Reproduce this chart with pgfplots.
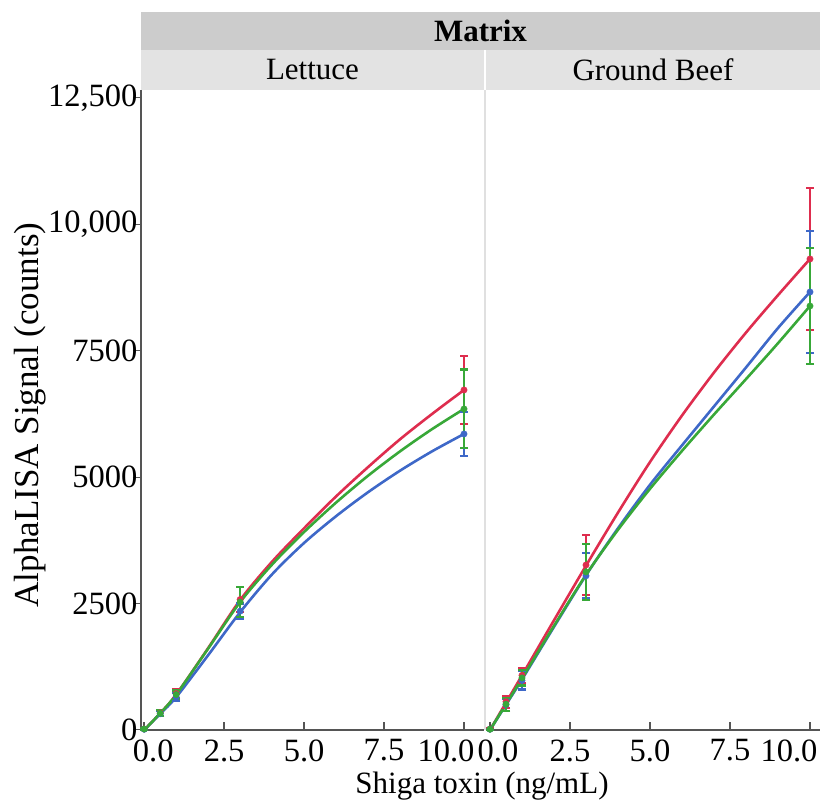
\documentclass[border=0pt]{standalone}
\usepackage{pgfplots}
\usepackage{pgfplotstable}
\pgfplotsset{compat=1.18}
\usepackage{fontspec}
\setmainfont{Liberation Serif}
\definecolor{cred}{RGB}{222,45,78}
\definecolor{cgreen}{RGB}{56,168,56}
\definecolor{cblue}{RGB}{62,104,200}
\definecolor{stripdark}{RGB}{204,204,204}
\definecolor{striplight}{RGB}{227,227,227}
\definecolor{axgray}{RGB}{85,85,85}
\newcommand\bigf{\fontsize{31}{36}\selectfont}
\newcommand\tickf{\fontsize{32.5}{36}\selectfont}
\newcommand\labf{\fontsize{35}{40}\selectfont}
\pgfplotstableread{
x r g b
0 0 0 0
0.5 330 330 320
1 700 700 650
2 1620 1610 1480
3 2570 2530 2330
4 3330 3273 3080
5 3990 3916 3700
6 4620 4498 4229
7 5200 5029 4703
8 5750 5511 5129
9 6250 5950 5511
10 6725 6350 5855
}\curveL
\pgfplotstableread{
x r g b
0 0 0 0
0.5 540 510 500
1 1080 1020 1000
2 2170 2060 2040
3 3250 3070 3060
4 4300 3960 3990
5 5300 4770 4850
6 6220 5520 5630
7 7070 6240 6400
8 7860 6940 7170
9 8600 7650 7950
10 9316 8386 8663
}\curveR
\pgfplotstableread{
x y e
0 20 10
0.5 340 60
1 720 80
3 2580 250
10 6725 670
}\ptsLr
\pgfplotstableread{
x y e
0 20 10
0.5 330 60
1 700 80
3 2530 300
10 6350 780
}\ptsLg
\pgfplotstableread{
x y e
0 15 10
0.5 320 50
1 650 80
3 2350 150
10 5855 430
}\ptsLb
\pgfplotstableread{
x y e
0 20 10
0.5 560 120
1 1080 150
3 3263 600
10 9316 1400
}\ptsRr
\pgfplotstableread{
x y e
0 15 10
0.5 510 130
1 1030 150
3 3125 550
10 8386 1150
}\ptsRg
\pgfplotstableread{
x y e
0 15 10
0.5 500 120
1 980 180
3 3050 450
10 8663 1200
}\ptsRb
\pgfplotsset{
  panel/.style={
    scale only axis, height=640pt, ymin=0, ymax=12658,
    axis x line*=bottom,
    axis line style={-, draw=axgray, line width=1.5pt},
    tick align=inside, major tick length=8pt,
    tick style={draw=axgray, line width=1.5pt},
    xtick={0,2.5,5,7.5,10},
    tick label style={font=\tickf},
    xticklabel style={yshift=-6pt},
    scaled y ticks=false,
    /pgf/number format/assume math mode=true,
    clip=false,
  },
  crv/.style={line width=2.6pt, smooth},
  pts/.style={only marks, mark=*, mark size=3.2pt,
    error bars/.cd, y dir=both, y explicit,
    error bar style={line width=2.2pt},
    error mark options={rotate=90, mark size=4pt, line width=2.2pt}},
}
\begin{document}
\begin{tikzpicture}[x=1pt,y=1pt,font=\bigf]
\path[use as bounding box] (0,0) rectangle (820,800);
\fill[stripdark] (141,750) rectangle (820,788);
\fill[striplight] (141,710) rectangle (484,750);
\fill[striplight] (486,710) rectangle (820,750);
\node[font=\bigf\bfseries] at (480.5,769) {Matrix};
\node at (312.5,730) {Lettuce};
\node at (653,730) {Ground Beef};
\draw[black!12, line width=1.5pt] (485,70) -- (485,710);
\begin{axis}[panel, at={(141pt,70pt)}, anchor=south west, width=343pt,
  xmin=-0.1, xmax=10.625,
  axis y line*=left,
  xticklabels={\hspace*{18pt}0.0,2.5,5.0,7.5,10.0\hspace*{36pt}},
  ytick={0,2500,5000,7500,10000,12500},
  yticklabels={0,2500,5000,7500,{10,000},{12,500}},
  y tick style={xshift=-8pt, line width=1pt},
]
\addplot[cred, crv] table[x=x,y=r] \curveL;
\addplot[cblue, crv] table[x=x,y=b] \curveL;
\addplot[cgreen, crv] table[x=x,y=g] \curveL;
\addplot[cred, pts] table[x=x,y=y,y error=e] \ptsLr;
\addplot[cblue, pts] table[x=x,y=y,y error=e] \ptsLb;
\addplot[cgreen, pts] table[x=x,y=y,y error=e] \ptsLg;
\end{axis}
\begin{axis}[panel, at={(486pt,70pt)}, anchor=south west, width=334pt,
  xmin=-0.125, xmax=10.3125,
  axis y line=none, ytick=\empty,
  xticklabels={\hspace*{16pt}0.0,2.5,5.0,7.5,10.0\hspace*{42pt}},
]
\addplot[cred, crv] table[x=x,y=r] \curveR;
\addplot[cblue, crv] table[x=x,y=b] \curveR;
\addplot[cgreen, crv] table[x=x,y=g] \curveR;
\addplot[cred, pts] table[x=x,y=y,y error=e] \ptsRr;
\addplot[cblue, pts] table[x=x,y=y,y error=e] \ptsRb;
\addplot[cgreen, pts] table[x=x,y=y,y error=e] \ptsRg;
\end{axis}
\node[rotate=90, font=\labf] at (30,385) {AlphaLISA Signal (counts)};
\node at (482,14) {Shiga toxin (ng/mL)};
\end{tikzpicture}
\end{document}
